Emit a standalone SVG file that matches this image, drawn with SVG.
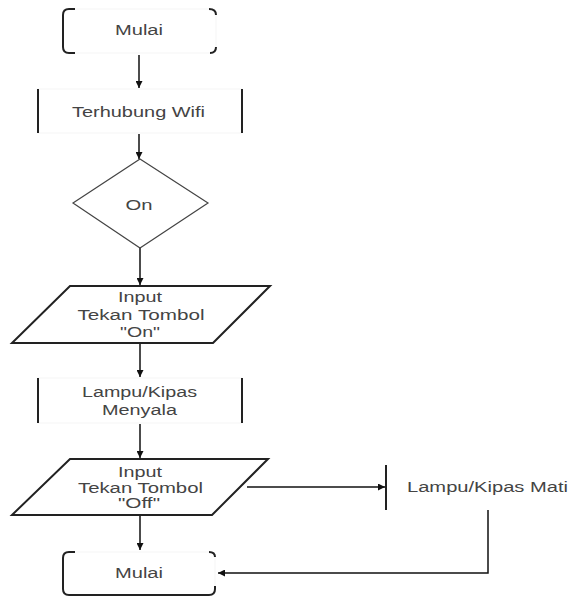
<svg xmlns="http://www.w3.org/2000/svg" width="569" height="599" viewBox="0 0 569 599">
<defs>
<marker id="ah" viewBox="0 0 10 10" refX="10" refY="5" markerWidth="7" markerHeight="7" orient="auto" markerUnits="userSpaceOnUse">
<path d="M0,0 L10,5 L0,10 z" fill="#111"/>
</marker>
<style>
.t{font-family:"Liberation Sans",Arial,sans-serif;font-size:14px;fill:#444;text-anchor:middle;dominant-baseline:central}
.dk{fill:none;stroke:#222;stroke-width:2}
.fa{fill:none;stroke:#f5f5f5;stroke-width:1}
.ln{fill:none;stroke:#111;stroke-width:1.5}
</style>
</defs>
<rect width="569" height="599" fill="#fff"/>
<g id="connectors">
<path class="ln" d="M139,55 V88" marker-end="url(#ah)"/>
<path class="ln" d="M139,134 V159" marker-end="url(#ah)"/>
<path class="ln" d="M140,248 V285" marker-end="url(#ah)"/>
<path class="ln" d="M140,343 V377" marker-end="url(#ah)"/>
<path class="ln" d="M140,424 V458" marker-end="url(#ah)"/>
<path class="ln" d="M247,487 H385" marker-end="url(#ah)"/>
<path class="ln" d="M140,515 V550" marker-end="url(#ah)"/>
<path class="ln" d="M488,510 V573 H218" marker-end="url(#ah)"/>
</g>
<g id="start">
<rect class="fa" x="63" y="9" width="153" height="44" rx="6"/>
<path class="dk" d="M75,9 H69 Q63,9 63,15 V47 Q63,53 69,53 H75"/>
<path class="dk" d="M209,9 Q216,9 216,15 M216,47 Q216,53 210,53" stroke-width="1.5"/>
<text class="t" x="139" y="30" textLength="48" lengthAdjust="spacingAndGlyphs">Mulai</text>
</g>
<g id="wifi">
<rect class="fa" x="38" y="89" width="204" height="44"/>
<path class="dk" d="M38,89 V133 M242,89 V133"/>
<text class="t" x="138.5" y="112" textLength="133" lengthAdjust="spacingAndGlyphs">Terhubung Wifi</text>
</g>
<g id="decision">
<polygon points="140,159 208,203 140,248 73,203" fill="none" stroke="#444" stroke-width="1.2"/>
<text class="t" x="139" y="205" textLength="27" lengthAdjust="spacingAndGlyphs">On</text>
</g>
<g id="input-on">
<polygon points="70,286 270,286 213,343 12,343" class="dk"/>
<text class="t" x="140" y="297" textLength="44" lengthAdjust="spacingAndGlyphs">Input</text>
<text class="t" x="141" y="315" textLength="127" lengthAdjust="spacingAndGlyphs">Tekan Tombol</text>
<text class="t" x="140" y="332" textLength="40" lengthAdjust="spacingAndGlyphs">"On"</text>
</g>
<g id="menyala">
<rect class="fa" x="38" y="378" width="204" height="45"/>
<path class="dk" d="M38,378 V423 M242,378 V423"/>
<text class="t" x="139.5" y="392" textLength="115" lengthAdjust="spacingAndGlyphs">Lampu/Kipas</text>
<text class="t" x="139.5" y="410" textLength="75" lengthAdjust="spacingAndGlyphs">Menyala</text>
</g>
<g id="input-off">
<polygon points="70,459 268,459 212,515 12,515" class="dk"/>
<text class="t" x="140" y="472" textLength="44" lengthAdjust="spacingAndGlyphs">Input</text>
<text class="t" x="140.5" y="488" textLength="125" lengthAdjust="spacingAndGlyphs">Tekan Tombol</text>
<text class="t" x="139" y="503" textLength="42" lengthAdjust="spacingAndGlyphs">"Off"</text>
</g>
<g id="mati">
<path class="dk" d="M386,465 V510"/>
<text class="t" x="487.5" y="487" textLength="161" lengthAdjust="spacingAndGlyphs">Lampu/Kipas Mati</text>
</g>
<g id="end">
<rect class="fa" x="63" y="552" width="152" height="43" rx="6"/>
<path class="dk" d="M75,552 H69 Q63,552 63,558 V589 Q63,595 69,595 H209 Q215,595 215,589 V586"/>
<path class="dk" d="M209,552 Q215,552 215,557" stroke-width="1.5"/>
<text class="t" x="139" y="573" textLength="48" lengthAdjust="spacingAndGlyphs">Mulai</text>
</g>
</svg>
